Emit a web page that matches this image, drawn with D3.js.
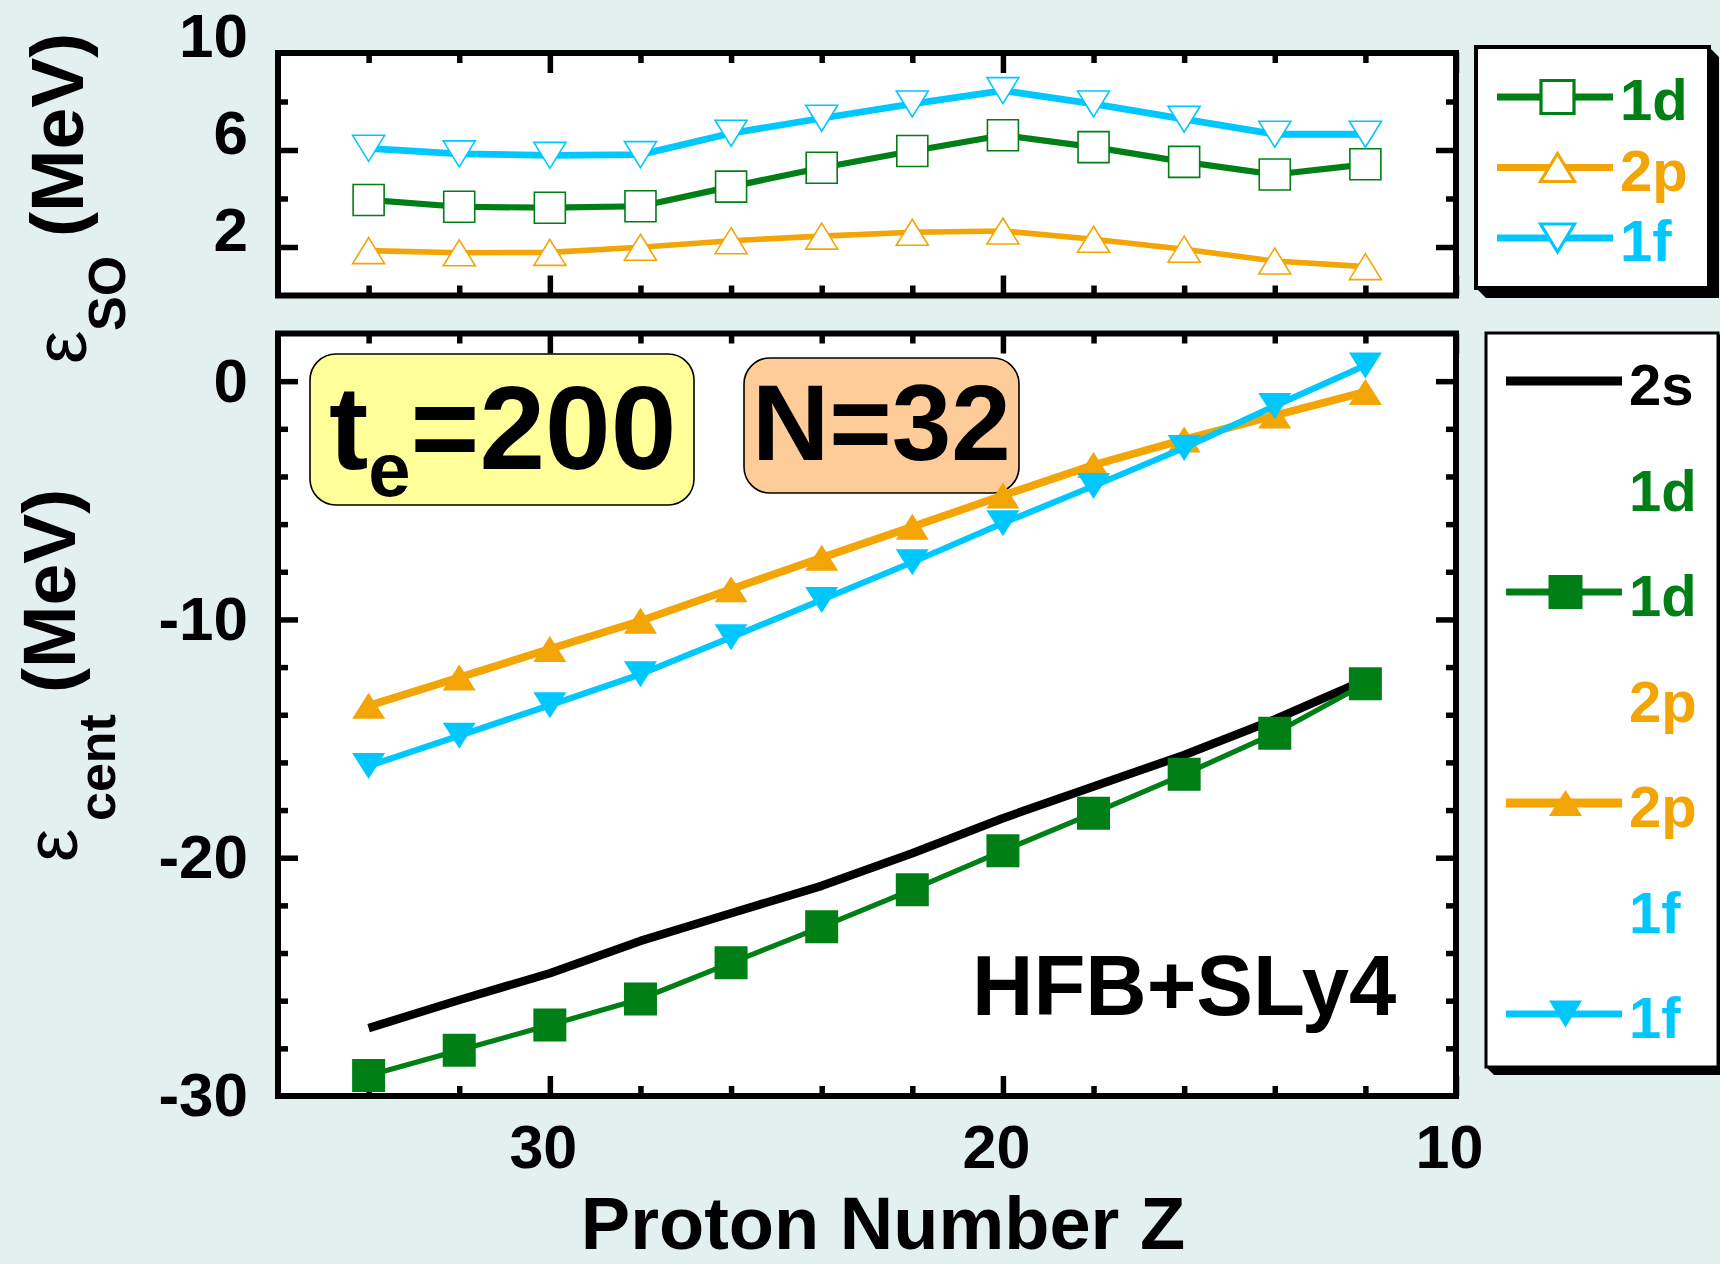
<!DOCTYPE html>
<html>
<head>
<meta charset="utf-8">
<script src="https://cdn.jsdelivr.net/npm/d3@7"></script>
<style>
  html, body { margin: 0; padding: 0; background: #e2f1f0; }
  svg { display: block; }
  text { font-family: "Liberation Sans", Arial, Helvetica, sans-serif; }
</style>
</head>
<body>
<svg id="chart" width="1720" height="1264"></svg>
<script>
// Proton numbers of the N=32 isotones
const protonZ = [34, 32, 30, 28, 26, 24, 22, 20, 18, 16, 14, 12];

// Spin-orbit splittings (MeV)
const so1d = [3.94, 3.66, 3.62, 3.68, 4.49, 5.27, 5.96, 6.61, 6.12, 5.51, 4.99, 5.41];
const so2p = [1.85, 1.76, 1.78, 1.99, 2.26, 2.45, 2.61, 2.66, 2.32, 1.91, 1.42, 1.19];
const so1f = [6.07, 5.84, 5.78, 5.81, 6.69, 7.31, 7.90, 8.45, 7.90, 7.27, 6.65, 6.65];

// Centroid energies (MeV)
const cent2s = [-27.15, -25.97, -24.85, -23.49, -22.33, -21.18, -19.81, -18.34, -17.01, -15.69, -14.20, -12.54];
const cent1d = [-29.14, -28.08, -27.02, -25.93, -24.41, -22.90, -21.34, -19.71, -18.13, -16.50, -14.78, -12.70];
const cent2p = [-13.62, -12.44, -11.24, -10.06, -8.73, -7.41, -6.11, -4.80, -3.52, -2.45, -1.44, -0.45];
const cent1f = [-16.15, -14.88, -13.60, -12.30, -10.75, -9.18, -7.60, -5.96, -4.40, -2.80, -1.04, 0.66];

// Tick labels
const xTickLabels = [30, 20, 10];
const soTickLabels = [10, 6, 2];
const centTickLabels = [0, -10, -20, -30];

// Legend labels
const soLegend = ["1d", "2p", "1f"];
const centLegend = ["2s", "1d", "1d", "2p", "2p", "1f", "1f"];

const GREEN = "#007f17", ORANGE = "#f2a505", CYAN = "#00c8ff", BLACK = "#000";

const svg = d3.select("#chart");
svg.append("rect").attr("width", 1720).attr("height", 1264).attr("fill", "#e2f1f0");

const x = d3.scaleLinear().domain([36, 10]).range([278, 1456]);
const ySO = d3.scaleLinear().domain([0, 10]).range([295.5, 53]);
const yC = d3.scaleLinear().domain([-30, 2]).range([1096, 333.5]);

// marker shapes, centred on the data point
const shape = {
  square: s => `M${-s / 2},${-s / 2}h${s}v${s}h${-s}Z`,
  up: (w, h) => `M0,${-h / 2}L${w / 2},${h / 2}L${-w / 2},${h / 2}Z`,
  down: (w, h) => `M0,${h / 2}L${w / 2},${-h / 2}L${-w / 2},${-h / 2}Z`
};

function zip(vals) { return protonZ.map((z, i) => ({ z, v: vals[i] })); }

// ---- inward tick marks for a panel ----
function panelTicks(y, yTop, yBot, majorY, minorY) {
  const majorX = [30, 20, 10], minorX = [34, 32, 28, 26, 24, 22, 18, 16, 14, 12];
  const g = svg.append("g").attr("class", "ticks");
  const tickStyle = sel => {
    sel.select(".domain").remove();
    sel.selectAll("line").attr("stroke", BLACK).attr("stroke-width", 5.5);
  };
  [[majorX, 20], [minorX, 10]].forEach(([vals, len]) => {
    g.append("g").attr("transform", `translate(0,${yBot})`)
      .call(d3.axisBottom(x).tickValues(vals).tickSize(-len).tickSizeOuter(0).tickFormat(""))
      .call(tickStyle);
    g.append("g").attr("transform", `translate(0,${yTop})`)
      .call(d3.axisTop(x).tickValues(vals).tickSize(-len).tickSizeOuter(0).tickFormat(""))
      .call(tickStyle);
  });
  [[majorY, 20], [minorY, 10]].forEach(([vals, len]) => {
    g.append("g").attr("transform", `translate(${x.range()[0]},0)`)
      .call(d3.axisLeft(y).tickValues(vals).tickSize(-len).tickSizeOuter(0).tickFormat(""))
      .call(tickStyle);
    g.append("g").attr("transform", `translate(${x.range()[1]},0)`)
      .call(d3.axisRight(y).tickValues(vals).tickSize(-len).tickSizeOuter(0).tickFormat(""))
      .call(tickStyle);
  });
}

function panelBack(yTop, yBot) {
  svg.append("rect").attr("x", x.range()[0]).attr("y", yTop)
    .attr("width", x.range()[1] - x.range()[0]).attr("height", yBot - yTop)
    .attr("fill", "#fff");
}

function panelFrame(yTop, yBot) {
  svg.append("rect").attr("x", x.range()[0]).attr("y", yTop)
    .attr("width", x.range()[1] - x.range()[0]).attr("height", yBot - yTop)
    .attr("fill", "none").attr("stroke", BLACK).attr("stroke-width", 6);
}

function series(y, vals, color, width, marker) {
  const data = zip(vals);
  const line = d3.line().x(d => x(d.z)).y(d => y(d.v));
  svg.append("path").datum(data).attr("d", line)
    .attr("fill", "none").attr("stroke", color).attr("stroke-width", width)
    .attr("stroke-linejoin", "round");
  if (!marker) return;
  svg.append("g").selectAll("path").data(data).join("path")
    .attr("transform", d => `translate(${x(d.z)},${y(d.v)})`)
    .attr("d", marker.d)
    .attr("fill", marker.fill)
    .attr("stroke", marker.stroke || "none")
    .attr("stroke-width", marker.sw || 0);
}

// ================= upper panel: spin-orbit splitting =================
panelBack(53, 295.5);
panelTicks(ySO, 53, 295.5, [2, 6], [4, 8]);
series(ySO, so1d, GREEN, 6.2, { d: shape.square(31), fill: "#fff", stroke: GREEN, sw: 1.6 });
series(ySO, so2p, ORANGE, 5.6, { d: shape.up(32, 26), fill: "#fff", stroke: ORANGE, sw: 1.6 });
series(ySO, so1f, CYAN, 6.8, { d: shape.down(32, 26), fill: "#fff", stroke: CYAN, sw: 1.6 });
panelFrame(53, 295.5);

// ================= lower panel: centroid energies =================
panelBack(333.5, 1096);
panelTicks(yC, 333.5, 1096, [0, -10, -20], [-2, -4, -6, -8, -12, -14, -16, -18, -22, -24, -26, -28]);

// annotation boxes
svg.append("rect").attr("x", 310).attr("y", 354).attr("width", 384).attr("height", 151)
  .attr("rx", 26).attr("fill", "#ffff99").attr("stroke", BLACK).attr("stroke-width", 1.6);
svg.append("rect").attr("x", 744).attr("y", 358).attr("width", 275).attr("height", 135)
  .attr("rx", 26).attr("fill", "#fecc99").attr("stroke", BLACK).attr("stroke-width", 1.6);

series(yC, cent2s, BLACK, 8.5, null);
series(yC, cent1d, GREEN, 5.2, { d: shape.square(33), fill: GREEN });
series(yC, cent2p, ORANGE, 7.8, { d: shape.up(33, 26), fill: ORANGE });
series(yC, cent1f, CYAN, 6.2, { d: shape.down(33, 26), fill: CYAN });
panelFrame(333.5, 1096);

const te = svg.append("text").attr("font-weight", "bold").attr("fill", BLACK);
te.append("tspan").attr("x", 329).attr("y", 469).attr("font-size", 118).text("t");
te.append("tspan").attr("y", 496).attr("font-size", 76).text("e");
te.append("tspan").attr("y", 469).attr("font-size", 118).text("=200");

svg.append("text").attr("x", 752).attr("y", 460).attr("font-size", 107)
  .attr("font-weight", "bold").text("N=32");

svg.append("text").attr("x", 972).attr("y", 1015).attr("font-size", 85)
  .attr("font-weight", "bold").text("HFB+SLy4");

// ================= tick labels =================
const labelStyle = sel => {
  sel.select(".domain").remove();
  sel.selectAll("text").attr("font-size", 62).attr("font-weight", "bold")
    .attr("fill", BLACK).attr("font-family", '"Liberation Sans", Arial, sans-serif');
};
svg.append("g").attr("transform", "translate(0,1096)")
  .call(d3.axisBottom(x).tickValues(xTickLabels).tickSize(0).tickPadding(29).tickFormat(d => String(d)))
  .call(labelStyle)
  .selectAll("text").attr("dx", -7).attr("font-size", 61);

svg.append("g").attr("transform", "translate(278,0)")
  .call(d3.axisLeft(ySO).tickValues(soTickLabels).tickSize(0).tickPadding(30).tickFormat(d => String(d)))
  .call(labelStyle)
  .selectAll("text").attr("y", -16);

svg.append("g").attr("transform", "translate(278,0)")
  .call(d3.axisLeft(yC).tickValues(centTickLabels).tickSize(0).tickPadding(30).tickFormat(d => String(d)))
  .call(labelStyle);

// ================= axis titles =================
svg.append("text").attr("x", 883).attr("y", 1249).attr("text-anchor", "middle")
  .attr("font-size", 74).attr("font-weight", "bold").text("Proton Number Z");

const tSO = svg.append("text").attr("transform", "rotate(-90)").attr("fill", BLACK);
tSO.append("tspan").attr("x", -364).attr("y", 86).attr("font-size", 75).text("ε");
tSO.append("tspan").attr("x", -331).attr("y", 125).attr("font-size", 52).attr("font-weight", "bold").text("SO");
tSO.append("tspan").attr("x", -237).attr("y", 83).attr("font-size", 75).attr("font-weight", "bold").text("(MeV)");

const tC = svg.append("text").attr("transform", "rotate(-90)").attr("fill", BLACK);
tC.append("tspan").attr("x", -862).attr("y", 77).attr("font-size", 75).text("ε");
tC.append("tspan").attr("x", -821).attr("y", 115).attr("font-size", 52).attr("font-weight", "bold").text("cent");
tC.append("tspan").attr("x", -693).attr("y", 75).attr("font-size", 75).attr("font-weight", "bold").text("(MeV)");

// ================= legends =================
function legendBox(x0, y0, x1, y1, sh, bw) {
  svg.append("path")
    .attr("d", `M${x0},${y1}L${x0 + sh},${y1 + sh}L${x1 + sh},${y1 + sh}L${x1 + sh},${y0 + sh}L${x1},${y0}Z`)
    .attr("fill", BLACK);
  svg.append("rect").attr("x", x0).attr("y", y0).attr("width", x1 - x0).attr("height", y1 - y0)
    .attr("fill", "#fff").attr("stroke", BLACK).attr("stroke-width", bw);
}

// upper legend
legendBox(1476, 47, 1709, 288, 10, 4);
const soStyles = [
  { color: GREEN, d: shape.square(33) },
  { color: ORANGE, d: shape.up(34, 28) },
  { color: CYAN, d: shape.down(34, 28) }
];
soLegend.forEach((lab, i) => {
  const base = 120 + i * 70.5, st = soStyles[i];
  svg.append("line").attr("x1", 1497).attr("x2", 1613).attr("y1", base - 23).attr("y2", base - 23)
    .attr("stroke", st.color).attr("stroke-width", 7);
  svg.append("path").attr("transform", `translate(1557.5,${base - 23})`).attr("d", st.d)
    .attr("fill", "#fff").attr("stroke", st.color).attr("stroke-width", 3.2);
  svg.append("text").attr("x", 1620).attr("y", base).attr("font-size", 58)
    .attr("font-weight", "bold").attr("fill", st.color).text(lab);
});

// lower legend
legendBox(1486, 333, 1718, 1067, 8, 3);
const centStyles = [
  { color: BLACK, line: 9 },
  { color: GREEN },
  { color: GREEN, line: 7, d: shape.square(34) },
  { color: ORANGE },
  { color: ORANGE, line: 9, d: shape.up(33, 26) },
  { color: CYAN },
  { color: CYAN, line: 7, d: shape.down(33, 27) }
];
centLegend.forEach((lab, i) => {
  const base = 405 + i * 105.5, st = centStyles[i];
  if (st.line) {
    svg.append("line").attr("x1", 1506).attr("x2", 1622).attr("y1", base - 24).attr("y2", base - 24)
      .attr("stroke", st.color).attr("stroke-width", st.line);
  }
  if (st.d) {
    svg.append("path").attr("transform", `translate(1565.5,${base - 24})`).attr("d", st.d)
      .attr("fill", st.color);
  }
  svg.append("text").attr("x", 1629).attr("y", base).attr("font-size", 58)
    .attr("font-weight", "bold").attr("fill", st.color).text(lab);
});
</script>
</body>
</html>
